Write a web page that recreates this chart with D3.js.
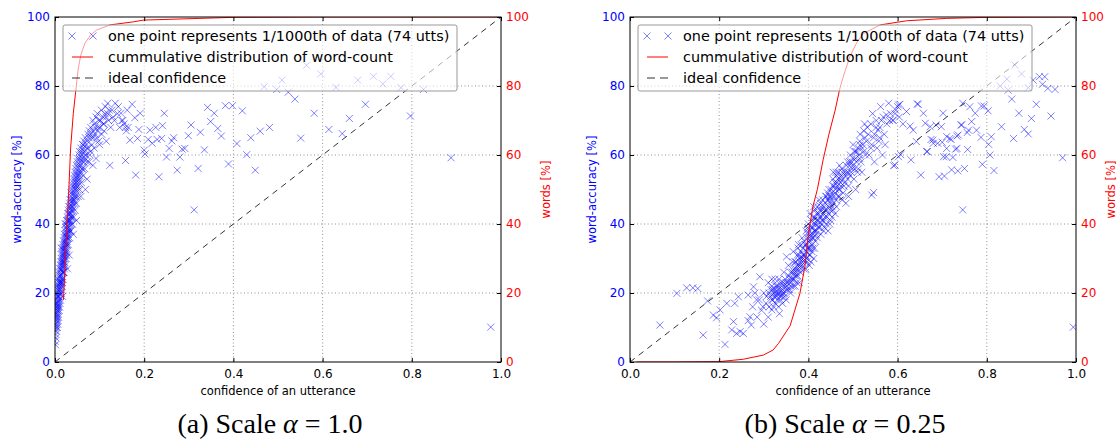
<!DOCTYPE html>
<html>
<head>
<meta charset="utf-8">
<script src="https://cdn.jsdelivr.net/npm/d3@7"></script>
<style>
body{margin:0;background:#fff;}
</style>
</head>
<body>
<script>

var xTicks=[0,0.2,0.4,0.6,0.8,1.0];
var yTicks=[0,20,40,60,80,100];
var legendLabels=['one point represents 1/1000th of data (74 utts)','cummulative distribution of word-count','ideal confidence'];
var xLabel='confidence of an utterance';
var yLabelLeft='word-accuracy [%]';
var yLabelRight='words [%]';
var captionsA=['(a) Scale ','α',' = 1.0'];
var captionsB=['(b) Scale ','α',' = 0.25'];
var ideal=[[0,0],[1,100]];

// panel (a): [confidence, word-accuracy]
var pointsA=[
[0.001,5],[0.002,8],[0.000,10],[0.003,9],[0.004,12],[0.001,13],[0.006,11],[0.003,14],[0.007,14],[0.005,15],[0.002,16],[0.008,13],
[0.004,17],[0.007,17],[0.010,16],[0.005,19],[0.009,19],[0.012,18],[0.006,21],[0.011,21],[0.014,20],[0.008,23],[0.013,23],[0.016,22],[0.010,25],[0.015,25],[0.018,24],[0.012,20],[0.017,19],[0.003,20],
[0.011,27],[0.016,27],[0.020,26],[0.013,29],[0.018,29],[0.023,28],[0.015,31],[0.020,31],[0.025,30],[0.017,33],[0.022,33],[0.027,32],[0.019,35],[0.024,35],[0.030,34],[0.014,33],[0.028,27],[0.032,31],
[0.021,37],[0.027,37],[0.033,36],[0.024,39],[0.030,39],[0.036,38],[0.026,41],[0.032,41],[0.039,40],[0.029,43],[0.035,43],[0.042,42],[0.031,45],[0.038,45],[0.045,44],[0.023,40],[0.041,37],[0.048,41],[0.034,38],[0.037,40],
[0.034,47],[0.041,47],[0.048,46],[0.036,49],[0.044,49],[0.052,48],[0.039,51],[0.047,51],[0.055,50],[0.042,53],[0.050,53],[0.059,52],[0.045,55],[0.054,55],[0.063,54],[0.068,50],[0.072,53],[0.058,48],[0.046,50],[0.052,54],
[0.048,57],[0.057,57],[0.067,56],[0.051,59],[0.061,59],[0.072,58],[0.055,61],[0.066,61],[0.078,60],[0.085,57],[0.092,59],[0.060,56],[0.075,62],[0.088,62],[0.070,60],
[0.062,63],[0.072,64],[0.083,63],[0.068,65],[0.080,66],[0.094,65],[0.077,67],[0.090,68],[0.105,66],[0.115,64],[0.123,57],[0.100,63],[0.110,67],[0.086,65],
[0.088,69],[0.098,70],[0.110,69],[0.095,72],[0.108,71],[0.120,70],[0.104,73],[0.118,72],[0.130,71],[0.113,74],[0.128,73],[0.140,72],[0.135,75],[0.150,70],[0.162,73],[0.145,68],[0.158,68],[0.125,68],[0.100,68],[0.092,71],
[0.155,69],[0.160,67],[0.164,68],[0.152,70],
[0.000,6],[0.002,7],[0.001,9],[0.004,10],[0.002,11],[0.005,13],[0.000,14],[0.006,15],[0.004,16],[0.008,16],[0.001,17],[0.006,18],[0.009,18],[0.003,18],[0.007,20],[0.010,20],[0.005,22],[0.009,22],[0.012,23],[0.007,24],
[0.011,24],[0.014,24],[0.009,26],[0.013,26],[0.017,26],[0.012,28],[0.015,28],[0.019,28],[0.014,30],[0.018,30],[0.022,30],[0.016,32],[0.020,32],[0.024,32],[0.018,34],[0.022,34],[0.026,34],[0.021,36],[0.025,36],[0.029,36],
[0.023,38],[0.028,38],[0.032,38],[0.025,40],[0.030,40],[0.035,41],[0.028,42],[0.033,42],[0.038,42],[0.030,44],[0.035,44],[0.040,44],[0.033,46],[0.038,46],[0.044,46],[0.036,48],[0.041,48],[0.047,48],[0.038,50],[0.043,50],[0.050,50],
[0.041,52],[0.046,52],[0.053,52],[0.044,54],[0.049,54],[0.056,54],[0.047,56],[0.053,56],[0.062,56],[0.050,58],[0.056,58],[0.065,58],[0.054,60],[0.060,60],[0.068,60],[0.058,62],[0.064,62],[0.071,62],[0.080,61],[0.076,58],
[0.065,64],[0.070,63],[0.076,65],[0.082,65],[0.074,66],[0.086,67],[0.080,68],[0.095,67],[0.085,70],[0.102,70],[0.096,68],[0.108,69],[0.115,71],[0.122,73],[0.112,72],[0.133,70],[0.118,75],[0.142,74],[0.090,66],[0.098,64],
[0.002,12],[0.004,14],[0.006,16],[0.008,19],[0.010,22],[0.012,25],[0.014,27],[0.016,29],[0.018,31],[0.020,33],[0.022,35],[0.024,37],[0.026,39],[0.028,41],[0.031,43],[0.034,45],[0.037,47],[0.040,49],[0.043,51],[0.046,53],[0.049,55],[0.052,57],[0.055,59],[0.059,61],[0.063,63],
[0.005,10],[0.007,12],[0.009,15],[0.011,17],[0.013,21],[0.015,23],[0.017,23],[0.019,26],[0.021,29],[0.023,31],[0.026,31],[0.027,35],[0.029,38],[0.031,39],[0.033,40],[0.036,42],[0.040,46],[0.043,47],[0.045,48],[0.048,52],[0.051,51],[0.055,53],[0.058,55],[0.062,58],[0.067,59],
[0.001,11],[0.003,13],[0.002,15],[0.005,17],[0.007,19],[0.009,21],[0.011,23],[0.013,22],[0.016,24],[0.018,26],[0.021,27],[0.017,28],[0.020,29],[0.019,30],[0.022,32],[0.025,33],[0.023,34],[0.027,34],[0.026,36],[0.028,36],[0.030,37],[0.031,41],[0.034,43],[0.037,44],[0.039,45],
[0.173,74.7],[0.245,72.1],[0.342,73.8],[0.357,72.1],[0.382,74.3],[0.398,74.3],[0.420,72.8],[0.581,72.1],[0.696,74.7],[0.660,70.6],[0.614,67.4],[0.644,66.2],[0.551,64.9],[0.481,68.0],[0.460,66.9],[0.439,65.0],[0.408,63.3],[0.430,60.1],[0.449,55.6],[0.389,57.4],[0.373,65.5],[0.365,67.7],[0.349,69.7],[0.326,66.6],[0.305,68.7],[0.299,65.6],[0.335,61.5],[0.321,56.1],[0.312,44.1],[0.274,55.6],[0.233,53.7],[0.181,54.2],[0.158,58.4],[0.280,59.4],[0.250,59.4],[0.291,61.9],[0.285,61.7],[0.256,61.9],[0.262,64.1],[0.266,65.0],[0.241,68.5],[0.239,64.8],[0.226,68.0],[0.213,67.2],[0.209,64.5],[0.218,63.4],[0.229,64.5],[0.200,61.4],[0.202,60.3],[0.188,67.4],[0.185,64.8],[0.168,64.3],[0.191,72.1],[0.179,70.8],[0.148,72.1],
[0.469,79.8],[0.497,79.0],[0.523,78.2],[0.538,76.2],[0.630,79.6],[0.509,81.7],[0.679,81.7],[0.564,86.0],[0.596,83.5],[0.714,82.8],[0.735,80.6],[0.753,82.8],[0.776,79.5],[0.826,79.0],[0.797,71.3],[0.888,59.2],[0.977,10.1]
];

// panel (b): [scaled confidence, word-accuracy]
var pointsB=[
[0.265,12],[0.275,16],[0.285,13],[0.290,18],[0.295,15],[0.300,20],[0.305,17],[0.310,13],[0.315,19],[0.318,22],[0.322,16],[0.325,21],[0.330,18],[0.335,14],[0.338,20],[0.342,17],[0.300,11],[0.280,20],[0.310,23],[0.325,24],
[0.312,20],[0.318,18],[0.322,20],[0.328,19],[0.332,21],[0.336,19],[0.340,22],[0.345,20],[0.348,24],[0.352,22],[0.356,25],[0.360,23],[0.364,26],[0.368,24],[0.372,27],[0.376,25],[0.345,26],[0.355,28],[0.365,29],[0.334,24],[0.327,22],[0.350,18],[0.360,20],[0.370,22],[0.380,23],
[0.370,29],[0.375,31],[0.380,28],[0.384,30],[0.388,33],[0.392,29],[0.396,32],[0.400,35],[0.404,31],[0.408,34],[0.412,30],[0.378,34],[0.386,36],[0.394,27],[0.402,28],[0.410,33],[0.416,35],[0.382,26],[0.366,32],[0.398,36],
[0.395,38],[0.400,40],[0.405,37],[0.410,39],[0.414,42],[0.418,38],[0.422,41],[0.426,44],[0.430,40],[0.434,43],[0.438,46],[0.442,42],[0.446,45],[0.450,41],[0.455,44],[0.420,36],[0.428,37],[0.436,39],[0.404,43],[0.412,45],[0.424,47],[0.444,38],[0.452,47],[0.460,43],[0.416,40],
[0.440,48],[0.446,50],[0.452,49],[0.458,51],[0.462,47],[0.466,53],[0.470,50],[0.474,54],[0.478,49],[0.482,52],[0.486,55],[0.490,51],[0.494,54],[0.498,56],[0.502,53],[0.456,55],[0.470,57],[0.484,46],[0.506,50],[0.510,55],
[0.488,58],[0.494,60],[0.500,57],[0.506,59],[0.512,62],[0.518,58],[0.524,61],[0.530,64],[0.536,60],[0.542,63],[0.548,66],[0.554,62],[0.560,65],[0.500,63],[0.516,66],[0.532,68],[0.548,58],[0.566,60],[0.572,63],[0.520,55],
[0.524,67],[0.540,69],[0.552,70],[0.560,68],[0.568,71],[0.576,69],[0.584,72],[0.590,70],[0.596,73],[0.604,71],[0.612,69],[0.544,72],[0.562,74],[0.580,75],[0.600,74],[0.575,71.6],[0.589,70.1],[0.556,67.2],
[0.298,16],[0.306,19],[0.312,16],[0.316,21],[0.320,18],[0.324,19],[0.326,17],[0.330,20],[0.333,22],[0.338,18],[0.342,21],[0.344,23],[0.347,19],[0.350,21],[0.353,23],[0.358,21],[0.362,24],[0.366,22],[0.370,25],[0.374,23],[0.338,23],[0.318,24],
[0.368,27],[0.372,29],[0.376,28],[0.380,30],[0.383,32],[0.386,29],[0.390,31],[0.393,34],[0.396,30],[0.399,33],[0.402,31],[0.405,35],[0.408,32],[0.411,36],[0.414,33],[0.384,34],[0.390,27],[0.377,33],[0.397,29],[0.406,29],[0.373,26],[0.360,26],
[0.398,39],[0.402,38],[0.407,41],[0.411,40],[0.415,38],[0.419,43],[0.422,39],[0.425,42],[0.428,45],[0.431,41],[0.434,38],[0.437,44],[0.440,40],[0.443,47],[0.446,43],[0.449,46],[0.453,42],[0.457,46],[0.410,37],[0.420,45],[0.432,47],[0.448,40],[0.463,45],[0.466,48],
[0.450,48],[0.455,51],[0.460,49],[0.464,52],[0.468,50],[0.472,52],[0.476,55],[0.480,51],[0.484,54],[0.488,53],[0.492,57],[0.496,55],[0.500,59],[0.504,56],[0.508,58],[0.512,56],[0.476,47],[0.462,55],[0.490,48],[0.514,60],
[0.515,64],[0.522,63],[0.528,60],[0.534,66],[0.540,62],[0.546,65],[0.552,68],[0.558,64],[0.564,70],[0.570,66],[0.582,70],[0.594,72],[0.506,61],[0.526,69],
[0.320,21],[0.326,20],[0.330,22],[0.334,20],[0.340,19],[0.343,20],[0.346,22],[0.350,23],[0.354,21],[0.357,24],[0.361,22],[0.365,24],[0.369,26],[0.373,25],[0.377,27],[0.381,29],[0.385,28],[0.389,30],[0.393,31],[0.397,33],[0.401,33],[0.405,33],[0.409,36],[0.413,38],[0.417,37],
[0.421,40],[0.425,39],[0.429,42],[0.433,41],[0.437,42],[0.441,44],[0.445,47],[0.449,44],[0.453,45],[0.457,48],[0.461,50],[0.465,51],[0.469,48],[0.473,51],[0.477,53],[0.481,55],[0.485,57],[0.489,55],[0.493,58],[0.497,58],[0.503,61],[0.509,61],[0.515,59],[0.521,62],[0.527,65],
[0.379,31],[0.383,27],[0.387,31],[0.391,35],[0.395,34],[0.399,37],[0.403,36],[0.407,39],[0.411,42],[0.415,44],[0.419,41],[0.423,43],[0.427,46],[0.431,44],[0.435,45],[0.439,48],[0.443,49],[0.447,48],[0.451,50],[0.455,53],[0.459,52],[0.463,54],[0.467,55],[0.471,53],[0.475,56],
[0.067,10.7],[0.105,19.9],[0.127,21.5],[0.141,21.5],[0.152,21.3],[0.164,7.8],[0.213,5.1],[0.174,17.7],[0.187,13.6],[0.194,12.8],[0.202,15.1],[0.217,17.0],[0.235,17],[0.228,9.3],[0.232,11.7],[0.239,8.3],[0.254,8.3],[0.247,8.8],[0.243,18.9],[0.265,19.4],[0.277,21.8],[0.284,18.0],[0.269,13.1],[0.272,10.7],[0.291,24.7],[0.318,15.1],[0.333,16.0],[0.351,30.5],
[0.602,74.5],[0.644,74.8],[0.620,72.6],[0.658,72.1],[0.702,72.1],[0.746,75.0],[0.744,68.7],[0.759,67.2],[0.736,65.8],[0.720,64.5],[0.710,61.9],[0.733,61.9],[0.703,59.5],[0.724,59.3],[0.757,61.6],[0.750,56.1],[0.721,55.7],[0.693,53.7],[0.652,54.2],[0.746,44.1],[0.665,61.0],[0.630,58.6],[0.594,57.1],[0.602,59.5],[0.679,64.3],[0.690,63.4],[0.642,63.9],[0.662,69.2],[0.673,68.2],[0.635,67.2],[0.686,68.7],[0.542,48.4],[0.516,62.9],
[0.863,86.1],[0.878,83.5],[0.845,82.0],[0.830,80.0],[0.848,78.8],[0.856,76.2],[0.893,79.5],[0.904,81.7],[0.918,82.7],[0.930,82.7],[0.925,80.5],[0.937,79.3],[0.953,79.0],[0.911,74.7],[0.872,72.1],[0.900,70.6],[0.944,71.3],[0.884,67.4],[0.893,66.1],[0.860,64.8],[0.970,59.2],[0.833,68.2],[0.810,65.3],[0.807,60.0],[0.790,57.3],[0.816,55.5],[0.735,55.4],[0.705,53.9],[0.762,74.0],[0.788,74.2],[0.794,74.2],[0.803,72.8],[0.774,72.1],[0.766,69.7],[0.777,67.2],[0.742,68.7],[0.756,66.5],[0.733,65.5],[0.787,65.1],[0.804,63.1],[0.710,65.3],[0.717,64.8],[0.730,61.7],[0.700,63.7],[0.709,59.5],[0.675,64.5],[0.680,63.4],[0.667,61.0],[0.698,68.2],[0.646,74.7],[0.605,74.7],[0.628,68.4],[0.607,60.1],[0.591,56.9],[0.546,49.1],[0.994,10.1]
];

// cumulative distribution of word-count: [confidence, words %]
var cdfA=[[0.019,18],[0.025,35],[0.030,47],[0.035,62],[0.041,72],[0.046,78],[0.052,85],[0.058,89],[0.067,92.4],[0.080,94.8],[0.093,96.2],[0.123,97.7],[0.176,98.6],[0.198,99.1],[0.325,99.6],[0.40,99.9],[0.60,100],[1.0,100]];
var cdfB=[[0.015,0],[0.10,0],[0.20,0.1],[0.254,0.8],[0.299,2],[0.321,3.5],[0.333,5.4],[0.359,10.5],[0.381,19.9],[0.392,27.6],[0.400,37],[0.410,45],[0.420,50],[0.433,58.6],[0.446,66],[0.460,73],[0.470,79],[0.480,83.5],[0.493,88.5],[0.508,92.5],[0.523,95.2],[0.561,97.7],[0.620,98.9],[0.710,99.6],[0.800,99.9],[1.0,100]];

var svg=d3.select('body')
  .append('svg')
  .attr('width',1117)
  .attr('height',441)
  .style('font-family','"DejaVu Sans",sans-serif')

var cross='M-3.5,-3.5L3.5,3.5M-3.5,3.5L3.5,-3.5';

var drawPanel=(id,left,points,cdf,caption,rightLabelX)=>{
  const w=446, h=345, top=17;
  var x=d3.scaleLinear().domain([0,1]).range([left,left+w]);
  var y=d3.scaleLinear().domain([0,100]).range([top+h,top]);
  var y2=d3.scaleLinear().domain([0,100]).range([top+h,top]);

  svg.append('clipPath').attr('id','clip'+id)
    .append('rect').attr('x',left).attr('y',top).attr('width',w).attr('height',h)

  // grid
  var grid=svg.append('g').attr('stroke','#777').attr('stroke-width',0.8).attr('stroke-dasharray','1,2.5')
  grid.selectAll('.gx').data(xTicks.slice(1,-1)).enter().append('line')
    .attr('x1',d=>x(d)).attr('x2',d=>x(d)).attr('y1',top).attr('y2',top+h)
  grid.selectAll('.gy').data(yTicks.slice(1,-1)).enter().append('line')
    .attr('y1',d=>y(d)).attr('y2',d=>y(d)).attr('x1',left).attr('x2',left+w)

  var plot=svg.append('g').attr('clip-path','url(#clip'+id+')')

  plot.selectAll('.pt').data(points).enter().append('path')
    .attr('d',cross)
    .attr('transform',d=>'translate('+x(d[0])+','+y(d[1])+')')
    .attr('fill','none')
    .attr('stroke','#0000ff')
    .attr('stroke-opacity',0.5)
    .attr('stroke-width',1)

  plot.append('path').datum(cdf)
    .attr('d',d3.line().x(d=>x(d[0])).y(d=>y2(d[1])))
    .attr('fill','none').attr('stroke','#ff0000').attr('stroke-width',1)

  plot.append('path').datum(ideal)
    .attr('d',d3.line().x(d=>x(d[0])).y(d=>y(d[1])))
    .attr('fill','none').attr('stroke','#000').attr('stroke-opacity',0.8)
    .attr('stroke-width',1).attr('stroke-dasharray','6,5')

  // axes
  var styleAxis=(g,color)=>{
    g.select('.domain').remove();
    g.selectAll('line').attr('stroke','#000');
    g.selectAll('text').attr('fill',color).attr('font-size',12).attr('font-family','DejaVu Sans');
  }
  svg.append('g').attr('transform','translate(0,'+(top+h)+')')
    .call(d3.axisBottom(x).tickValues(xTicks).tickFormat(d3.format('.1f')).tickSize(-4).tickPadding(7))
    .call(g=>styleAxis(g,'#000'))
  svg.append('g').attr('transform','translate(0,'+top+')')
    .call(d3.axisTop(x).tickValues(xTicks).tickFormat('').tickSize(-4))
    .call(g=>styleAxis(g,'#000'))
  svg.append('g').attr('transform','translate('+left+',0)')
    .call(d3.axisLeft(y).tickValues(yTicks).tickSize(-4).tickPadding(5))
    .call(g=>styleAxis(g,'#0000ff'))
  svg.append('g').attr('transform','translate('+(left+w)+',0)')
    .call(d3.axisRight(y2).tickValues(yTicks).tickSize(-4).tickPadding(5))
    .call(g=>styleAxis(g,'#ff0000'))

  svg.append('rect').attr('x',left).attr('y',top).attr('width',w).attr('height',h)
    .attr('fill','none').attr('stroke','#000').attr('stroke-width',1)

  // labels
  svg.append('text').attr('x',left+w/2).attr('y',395).attr('text-anchor','middle')
    .attr('font-size',11.5).text(xLabel)
  svg.append('text').attr('transform','translate('+(left-38)+','+(top+h/2)+') rotate(-90)')
    .attr('text-anchor','middle').attr('dy','0.35em').attr('font-size',11.5).attr('fill','#0000ff').text(yLabelLeft)
  svg.append('text').attr('transform','translate('+rightLabelX+','+(top+h/2)+') rotate(-90)')
    .attr('text-anchor','middle').attr('dy','0.35em').attr('font-size',11.5).attr('fill','#ff0000').text(yLabelRight)

  // legend
  var lg=svg.append('g')
  lg.append('rect').attr('x',left+8).attr('y',25).attr('width',394).attr('height',66).attr('rx',2)
    .attr('fill','#fff').attr('fill-opacity',0.6).attr('stroke','#999').attr('stroke-width',1)
  var rows=[36,57,78];
  lg.selectAll('.mk').data([left+17,left+38]).enter().append('path')
    .attr('d',cross).attr('transform',d=>'translate('+d+','+rows[0]+')')
    .attr('stroke','#0000ff').attr('stroke-opacity',0.5).attr('fill','none')
  lg.append('line').attr('x1',left+17).attr('x2',left+38).attr('y1',rows[1]).attr('y2',rows[1])
    .attr('stroke','#ff0000')
  lg.append('line').attr('x1',left+17).attr('x2',left+38).attr('y1',rows[2]).attr('y2',rows[2])
    .attr('stroke','#000').attr('stroke-opacity',0.8).attr('stroke-dasharray','8,5')
  lg.selectAll('.lt').data(legendLabels).enter().append('text')
    .attr('x',left+53).attr('y',(d,i)=>rows[i]).attr('dy','0.35em')
    .attr('font-size',14.4).attr('fill','#000').text(d=>d)

  // caption
  var cap=svg.append('text').attr('x',left+w/2-8).attr('y',433).attr('text-anchor','middle')
    .style('font-family','"Liberation Serif",serif').attr('font-size',28)
  cap.append('tspan').text(caption[0])
  cap.append('tspan').attr('font-style','italic').text(caption[1])
  cap.append('tspan').text(caption[2])
}

drawPanel('a',55,pointsA,cdfA,captionsA,546)
drawPanel('b',630,pointsB,cdfB,captionsB,1111)

</script>
</body>
</html>
